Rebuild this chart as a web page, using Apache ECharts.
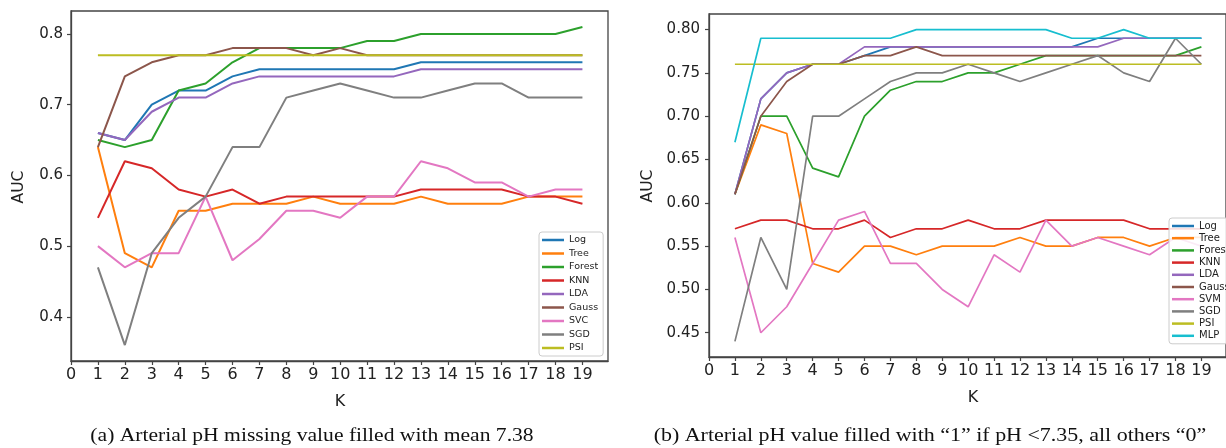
<!DOCTYPE html>
<html>
<head>
<meta charset="utf-8">
<script src="https://cdn.jsdelivr.net/npm/echarts@6/dist/echarts.min.js"></script>
<style>html,body{margin:0;padding:0;background:#fff}#c{width:1226px;height:448px}</style>
</head>
<body>
<div id="c"></div>
<script>
// ---------- data ----------
const K = [1,2,3,4,5,6,7,8,9,10,11,12,13,14,15,16,17,18,19];
const xTicks = [0,1,2,3,4,5,6,7,8,9,10,11,12,13,14,15,16,17,18,19];
const yTicksA = [0.4,0.5,0.6,0.7,0.8];
const yTicksB = [0.45,0.50,0.55,0.60,0.65,0.70,0.75,0.80];

// (a) mean-filled
const logA    = [0.66,0.65,0.70,0.72,0.72,0.74,0.75,0.75,0.75,0.75,0.75,0.75,0.76,0.76,0.76,0.76,0.76,0.76,0.76];
const treeA   = [0.64,0.49,0.47,0.55,0.55,0.56,0.56,0.56,0.57,0.56,0.56,0.56,0.57,0.56,0.56,0.56,0.57,0.57,0.57];
const forestA = [0.65,0.64,0.65,0.72,0.73,0.76,0.78,0.78,0.78,0.78,0.79,0.79,0.80,0.80,0.80,0.80,0.80,0.80,0.81];
const knnA    = [0.54,0.62,0.61,0.58,0.57,0.58,0.56,0.57,0.57,0.57,0.57,0.57,0.58,0.58,0.58,0.58,0.57,0.57,0.56];
const ldaA    = [0.66,0.65,0.69,0.71,0.71,0.73,0.74,0.74,0.74,0.74,0.74,0.74,0.75,0.75,0.75,0.75,0.75,0.75,0.75];
const gaussA  = [0.64,0.74,0.76,0.77,0.77,0.78,0.78,0.78,0.77,0.78,0.77,0.77,0.77,0.77,0.77,0.77,0.77,0.77,0.77];
const svcA    = [0.50,0.47,0.49,0.49,0.57,0.48,0.51,0.55,0.55,0.54,0.57,0.57,0.62,0.61,0.59,0.59,0.57,0.58,0.58];
const sgdA    = [0.47,0.36,0.49,0.54,0.57,0.64,0.64,0.71,0.72,0.73,0.72,0.71,0.71,0.72,0.73,0.73,0.71,0.71,0.71];
const psiA    = [0.77,0.77,0.77,0.77,0.77,0.77,0.77,0.77,0.77,0.77,0.77,0.77,0.77,0.77,0.77,0.77,0.77,0.77,0.77];

// (b) binary-filled
const logB    = [0.61,0.72,0.75,0.76,0.76,0.77,0.78,0.78,0.78,0.78,0.78,0.78,0.78,0.78,0.79,0.79,0.79,0.79,0.79];
const treeB   = [0.61,0.69,0.68,0.53,0.52,0.55,0.55,0.54,0.55,0.55,0.55,0.56,0.55,0.55,0.56,0.56,0.55,0.56,0.56];
const forestB = [0.61,0.70,0.70,0.64,0.63,0.70,0.73,0.74,0.74,0.75,0.75,0.76,0.77,0.77,0.77,0.77,0.77,0.77,0.78];
const knnB    = [0.57,0.58,0.58,0.57,0.57,0.58,0.56,0.57,0.57,0.58,0.57,0.57,0.58,0.58,0.58,0.58,0.57,0.57,0.57];
const ldaB    = [0.61,0.72,0.75,0.76,0.76,0.78,0.78,0.78,0.78,0.78,0.78,0.78,0.78,0.78,0.78,0.79,0.79,0.79,0.79];
const gaussB  = [0.61,0.70,0.74,0.76,0.76,0.77,0.77,0.78,0.77,0.77,0.77,0.77,0.77,0.77,0.77,0.77,0.77,0.77,0.77];
const svmB    = [0.56,0.45,0.48,0.53,0.58,0.59,0.53,0.53,0.50,0.48,0.54,0.52,0.58,0.55,0.56,0.55,0.54,0.56,0.55];
const sgdB    = [0.44,0.56,0.50,0.70,0.70,0.72,0.74,0.75,0.75,0.76,0.75,0.74,0.75,0.76,0.77,0.75,0.74,0.79,0.76];
const psiB    = [0.76,0.76,0.76,0.76,0.76,0.76,0.76,0.76,0.76,0.76,0.76,0.76,0.76,0.76,0.76,0.76,0.76,0.76,0.76];
const mlpB    = [0.67,0.79,0.79,0.79,0.79,0.79,0.79,0.80,0.80,0.80,0.80,0.80,0.80,0.79,0.79,0.80,0.79,0.79,0.79];

const namesA = ['Log','Tree','Forest','KNN','LDA','Gauss','SVC','SGD','PSI'];
const namesB = ['Log','Tree','Forest','KNN','LDA','Gauss','SVM','SGD','PSI','MLP'];
const colors = ['#1f77b4','#ff7f0e','#2ca02c','#d62728','#9467bd','#8c564b','#e377c2','#7f7f7f','#bcbd22','#17becf'];

const captionA = '(a) Arterial pH missing value filled with mean 7.38';
const captionB = '(b) Arterial pH value filled with \u201c1\u201d if pH <7.35, all others \u201c0\u201d';

// ---------- chart ----------
const seriesA = [logA,treeA,forestA,knnA,ldaA,gaussA,svcA,sgdA,psiA];
const seriesB = [logB,treeB,forestB,knnB,ldaB,gaussB,svmB,sgdB,psiB,mlpB];
const pairs = arr => arr.map((v,i)=>[K[i],v]);
const frame = '#444';

function mkSeries(list, names, idx, width){
  return list.map((arr,i)=>({
    type:'line', name:names[i], xAxisIndex:idx, yAxisIndex:idx,
    data:pairs(arr), showSymbol:false, symbol:'none',
    color:colors[i], lineStyle:{width:width, color:colors[i]},
    emphasis:{disabled:true}, animation:false
  }));
}
function xAx(idx){
  return {type:'value', gridIndex:idx, min:0, max:19.95,
    axisLine:{show:true, lineStyle:{color:frame, width:1.3}},
    axisTick:{show:true, customValues:xTicks, length:4, lineStyle:{color:frame, width:1.2}},
    axisLabel:{customValues:xTicks, margin:6, fontFamily:'DejaVu Sans', fontSize:16, color:'#222'},
    splitLine:{show:false}};
}
function yAx(idx, mn, mx, ticks, dec, margin){
  return {type:'value', gridIndex:idx, min:mn, max:mx,
    axisLine:{show:true, lineStyle:{color:frame, width:1.3}},
    axisTick:{show:true, customValues:ticks, length:4, lineStyle:{color:frame, width:1.2}},
    axisLabel:{customValues:ticks, margin:margin, formatter:v=>v.toFixed(dec), fontFamily:'DejaVu Sans', fontSize:15, color:'#222'},
    splitLine:{show:false}};
}
function legend(names, left, top, gap, fs, w){
  return {data:names, orient:'vertical', left:left, top:top, icon:'rect',
    itemWidth:w, itemHeight:2.5, itemGap:gap,
    textStyle:{fontFamily:'DejaVu Sans', fontSize:fs, color:'#222', lineHeight:12},
    backgroundColor:'rgba(255,255,255,0.85)', borderColor:'#ccc', borderWidth:1, borderRadius:3,
    padding:[2,5,2,3], selectedMode:false};
}
const txt = (text, x, y, fs, extra) => Object.assign({type:'text', x:x, y:y,
  style:{text:text, fontFamily:'DejaVu Sans', fontSize:fs, fill:'#222', align:'center', verticalAlign:'middle'}}, extra||{});

const chart = echarts.init(document.getElementById('c'), null, {renderer:'canvas'});
chart.setOption({
  animation:false,
  backgroundColor:'#fff',
  grid:[
    {left:71, top:11, width:537, height:350, show:true, borderColor:frame, borderWidth:1.3},
    {left:709, top:14, width:529, height:343, show:true, borderColor:frame, borderWidth:1.3}
  ],
  xAxis:[xAx(0), xAx(1)],
  yAxis:[yAx(0,0.3375,0.8325,yTicksA,1,8), yAx(1,0.422,0.818,yTicksB,2,9)],
  legend:[legend(namesA,539,232,1.5,9.5,22), legend(namesB,1169,218,0.2,10,22)],
  series:[].concat(mkSeries(seriesA,namesA,0,2), mkSeries(seriesB,namesB,1,1.7)),
  graphic:[
    txt('AUC', 19, 187, 15.5, {rotation:Math.PI/2}),
    txt('AUC', 648, 186, 15.5, {rotation:Math.PI/2}),
    txt('K', 340, 402, 16),
    txt('K', 973, 398, 16),
    {type:'text', x:312, y:436, scaleX:1.2, style:{text:captionA, fontFamily:'Liberation Serif', fontSize:18, fill:'#111', align:'center', verticalAlign:'middle'}},
    {type:'text', x:930, y:436, scaleX:1.22, style:{text:captionB, fontFamily:'Liberation Serif', fontSize:18, fill:'#111', align:'center', verticalAlign:'middle'}}
  ]
});
</script>
</body>
</html>
